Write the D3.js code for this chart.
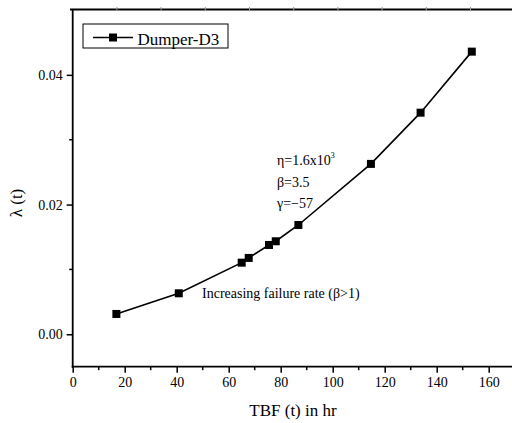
<!DOCTYPE html>
<html><head><meta charset="utf-8">
<script src="https://cdn.jsdelivr.net/npm/d3@7/dist/d3.min.js"></script>
<style>body{margin:0;background:#fff}svg{display:block}svg text{font-family:"Liberation Serif","Times New Roman",serif !important}</style>
</head><body><svg id="c" width="512" height="423"></svg>
<script>
const seriesName = "Dumper-D3";
const tbf = [16.8, 40.8, 65.0, 67.7, 75.5, 78.1, 86.8, 114.7, 133.8, 153.5];
const lambda = [0.00313, 0.00632, 0.01104, 0.01177, 0.01377, 0.01434, 0.01685, 0.02627, 0.03417, 0.04358];
const xTicks = [0, 20, 40, 60, 80, 100, 120, 140, 160];
const yTicks = [0.00, 0.02, 0.04];
const xLabel = "TBF (t) in hr";
const yLabel = "λ (t)";
const notes = ["Increasing failure rate (β>1)"];

const svg = d3.select("#c");
const x = d3.scaleLinear().domain([0, 170]).range([72.7, 514.7]);
const y = d3.scaleLinear().domain([-0.005, 0.05]).range([366.7, 10]);

// top frame line with faint ticks
svg.append("line").attr("x1", 70).attr("x2", 520).attr("y1", 9.5).attr("y2", 9.5)
  .attr("stroke", "#000").attr("stroke-width", 1.8);
const topTicks = d3.range(17, 170, 17);
svg.selectAll(".tt").data(topTicks).enter().append("line")
  .attr("x1", d => x(d)).attr("x2", d => x(d)).attr("y1", 7).attr("y2", 11)
  .attr("stroke", "#999").attr("stroke-width", 1);

// x axis
const xAxis = svg.append("g").attr("transform", `translate(0,${y(-0.005)})`)
  .call(d3.axisBottom(x).tickValues(xTicks).tickFormat(d3.format("d")).tickSize(6).tickPadding(4));
xAxis.select(".domain").attr("d", `M${x(0)-1},0H520`).attr("stroke-width", 1.8);
xAxis.selectAll(".tick line").attr("stroke-width", 1.5);
xAxis.selectAll("text").attr("font-size", 14);
svg.append("g").attr("transform", `translate(0,${y(-0.005)})`)
  .selectAll("line").data(d3.range(10, 170, 20)).enter().append("line")
  .attr("x1", d => x(d)).attr("x2", d => x(d)).attr("y1", 0).attr("y2", 3.5)
  .attr("stroke", "#000").attr("stroke-width", 1.5);

// y axis
const yAxis = svg.append("g").attr("transform", `translate(${x(0)},0)`)
  .call(d3.axisLeft(y).tickValues(yTicks).tickFormat(d3.format(".2f")).tickSize(6).tickPadding(4));
yAxis.select(".domain").attr("d", `M0,${y(0.05)-1}V${y(-0.005)+1}`).attr("stroke-width", 1.8);
yAxis.selectAll(".tick line").attr("stroke-width", 1.5);
yAxis.selectAll("text").attr("font-size", 14);
svg.append("g").attr("transform", `translate(${x(0)},0)`)
  .selectAll("line").data([0.01, 0.03]).enter().append("line")
  .attr("x1", 0).attr("x2", -3.5).attr("y1", d => y(d)).attr("y2", d => y(d))
  .attr("stroke", "#000").attr("stroke-width", 1.5);

// axis labels
svg.append("text").attr("x", 293).attr("y", 416).attr("text-anchor", "middle")
  .attr("font-size", 17).text(xLabel);
svg.append("text").attr("transform", "translate(22,203) rotate(-90)").attr("text-anchor", "middle")
  .attr("font-size", 17).text(yLabel);

// series
const pts = tbf.map((t, i) => [t, lambda[i]]);
svg.append("path").datum(pts)
  .attr("d", d3.line().x(d => x(d[0])).y(d => y(d[1])))
  .attr("fill", "none").attr("stroke", "#000").attr("stroke-width", 1.6);
const ms = 8;
svg.selectAll(".m").data(pts).enter().append("rect")
  .attr("x", d => x(d[0]) - ms / 2).attr("y", d => y(d[1]) - ms / 2)
  .attr("width", ms).attr("height", ms).attr("fill", "#000");

// legend
const lg = svg.append("g");
lg.append("rect").attr("x", 83).attr("y", 24).attr("width", 145).attr("height", 24)
  .attr("fill", "#fff").attr("stroke", "#000").attr("stroke-width", 1);
lg.append("line").attr("x1", 93).attr("x2", 133).attr("y1", 37.5).attr("y2", 37.5)
  .attr("stroke", "#000").attr("stroke-width", 1.6);
lg.append("rect").attr("x", 113 - ms / 2).attr("y", 37.5 - ms / 2).attr("width", ms).attr("height", ms).attr("fill", "#000");
lg.append("text").attr("x", 137.5).attr("y", 45).attr("font-size", 17).text(seriesName);

// annotations
const ann = svg.append("g").attr("font-size", 14);
const t1 = ann.append("text").attr("x", 277).attr("y", 165);
t1.append("tspan").text("η=1.6x10");
t1.append("tspan").attr("font-size", 8).attr("dy", -7).text("3");
ann.append("text").attr("x", 277).attr("y", 187).text("β=3.5");
ann.append("text").attr("x", 277).attr("y", 208).text("γ=−57");
ann.append("text").attr("x", 202).attr("y", 298).text(notes[0]);
</script></body></html>
